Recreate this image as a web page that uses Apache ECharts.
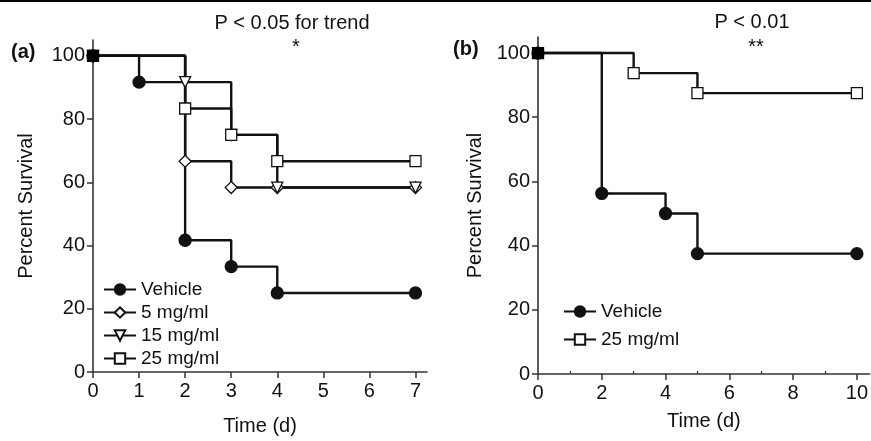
<!DOCTYPE html>
<html>
<head>
<meta charset="utf-8">
<script src="https://cdn.jsdelivr.net/npm/echarts@6/dist/echarts.min.js"></script>
<style>
html,body{margin:0;padding:0;background:#fff;}
#chart{width:871px;height:441px;}
</style>
</head>
<body>
<div id="chart"></div>
<script>
// Panel (a)
const timeA_vehicle = [0, 1, 2, 3, 4, 7];
const survA_vehicle = [100, 91.67, 41.67, 33.33, 25, 25];
const timeA_5 = [0, 2, 3, 4, 7];
const survA_5 = [100, 66.67, 58.33, 58.33, 58.33];
const timeA_15 = [0, 2, 3, 4, 7];
const survA_15 = [100, 91.67, 75, 58.33, 58.33];
const timeA_25 = [0, 2, 3, 4, 7];
const survA_25 = [100, 83.33, 75, 66.67, 66.67];
// Panel (b)
const timeB_vehicle = [0, 2, 4, 5, 10];
const survB_vehicle = [100, 56.25, 50, 37.5, 37.5];
const timeB_25 = [0, 3, 5, 10];
const survB_25 = [100, 93.75, 87.5, 87.5];

const yTicks = [0, 20, 40, 60, 80, 100];
const xTicksA = [0, 1, 2, 3, 4, 5, 6, 7];
const xTicksB = [0, 2, 4, 6, 8, 10];
const xMinorB = [1, 3, 5, 7, 9];
const namesA = ['Vehicle', '5 mg/ml', '15 mg/ml', '25 mg/ml'];
const namesB = ['Vehicle', '25 mg/ml'];

const FONT = '"Liberation Sans", Arial, Helvetica, sans-serif';
const INK = '#111';
const AX = '#333';

function pairs(t, s) { return t.map((x, i) => [x, s[i]]); }
function blackStart(t, s) {
  return t.map((x, i) => i === 0 ? { value: [x, s[i]], itemStyle: { color: '#000', borderColor: '#000' } } : [x, s[i]]);
}

function km(name, data, symbol, filled, xi, yi, rot) {
  return {
    type: 'line', name: name, data: data, step: 'end',
    xAxisIndex: xi, yAxisIndex: yi,
    symbol: symbol, symbolSize: symbol === 'circle' ? 12 : (symbol === 'diamond' ? 12 : 11),
    symbolRotate: rot || 0,
    showAllSymbol: true,
    lineStyle: { color: INK, width: 2.4 },
    itemStyle: { color: filled ? INK : '#fff', borderColor: INK, borderWidth: 1.3 },
    emphasis: { disabled: true },
    animation: false
  };
}

function yAxis(gi, gap) {
  return {
    type: 'value', gridIndex: gi, min: 0, max: 105,
    name: 'Percent Survival', nameLocation: 'middle', nameGap: gap, nameRotate: 90,
    nameTextStyle: { fontFamily: FONT, fontSize: 20, color: INK },
    axisLine: { show: true, lineStyle: { color: AX, width: 1.6 } },
    axisTick: { show: true, length: 6, customValues: yTicks, lineStyle: { color: AX, width: 1.5 } },
    axisLabel: { customValues: yTicks, margin: 8, fontFamily: FONT, fontSize: 20, color: INK },
    splitLine: { show: false }
  };
}
function xAxis(gi, max, ticks, gap) {
  return {
    type: 'value', gridIndex: gi, min: 0, max: max,
    name: 'Time (d)', nameLocation: 'middle', nameGap: gap,
    nameTextStyle: { fontFamily: FONT, fontSize: 20, color: INK },
    axisLine: { show: true, onZero: false, lineStyle: { color: AX, width: 1.6 } },
    axisTick: { show: true, length: 6, customValues: ticks, lineStyle: { color: AX, width: 1.5 } },
    axisLabel: { customValues: ticks, margin: 9, fontFamily: FONT, fontSize: 20, color: INK },
    splitLine: { show: false }
  };
}

const option = {
  backgroundColor: '#fff',
  animation: false,
  grid: [
    { left: 93, top: 40, width: 334, height: 336 },
    { left: 538, top: 37, width: 333, height: 337 }
  ],
  xAxis: [
    xAxis(0, 7.25, xTicksA, 44),
    xAxis(1, 10.4, xTicksB, 37),
    {
      type: 'value', gridIndex: 1, min: 0, max: 10.4,
      axisLine: { show: false },
      axisTick: { show: true, length: 3, customValues: xMinorB, lineStyle: { color: AX, width: 1.2 } },
      axisLabel: { show: false }, splitLine: { show: false }
    }
  ],
  yAxis: [yAxis(0, 57), yAxis(1, 53)],
  legend: [
    {
      data: namesA, orient: 'vertical', left: 103, top: 280, padding: 0,
      itemWidth: 32, itemHeight: 13, itemGap: 4,
      textStyle: { fontFamily: FONT, fontSize: 19, color: INK },
      selectedMode: false
    },
    {
      data: namesB, orient: 'vertical', left: 563, top: 302, padding: 0,
      itemWidth: 32, itemHeight: 13, itemGap: 9,
      textStyle: { fontFamily: FONT, fontSize: 19, color: INK },
      selectedMode: false
    }
  ],
  series: [
    km('Vehicle', pairs(timeA_vehicle, survA_vehicle), 'circle', true, 0, 0),
    km('5 mg/ml', pairs(timeA_5, survA_5), 'diamond', false, 0, 0),
    km('15 mg/ml', pairs(timeA_15, survA_15), 'triangle', false, 0, 0, 180),
    km('25 mg/ml', blackStart(timeA_25, survA_25), 'rect', false, 0, 0),
    km('Vehicle', pairs(timeB_vehicle, survB_vehicle), 'circle', true, 1, 1),
    km('25 mg/ml', blackStart(timeB_25, survB_25), 'rect', false, 1, 1)
  ],
  graphic: [
    { type: 'rect', left: 0, top: 0, shape: { width: 871, height: 2 }, style: { fill: '#000' } },
    { type: 'text', x: 292, y: 23, style: { text: 'P < 0.05 for trend', font: '20px ' + FONT, fill: INK, align: 'center', verticalAlign: 'middle' } },
    { type: 'text', x: 296, y: 47, style: { text: '*', font: '20px ' + FONT, fill: INK, align: 'center', verticalAlign: 'middle' } },
    { type: 'text', x: 752, y: 22, style: { text: 'P < 0.01', font: '20px ' + FONT, fill: INK, align: 'center', verticalAlign: 'middle' } },
    { type: 'text', x: 756, y: 47, style: { text: '**', font: '20px ' + FONT, fill: INK, align: 'center', verticalAlign: 'middle' } },
    { type: 'text', x: 11, y: 52, style: { text: '(a)', font: 'bold 20px ' + FONT, fill: INK, align: 'left', verticalAlign: 'middle' } },
    { type: 'text', x: 453, y: 49, style: { text: '(b)', font: 'bold 20px ' + FONT, fill: INK, align: 'left', verticalAlign: 'middle' } }
  ]
};

const chart = echarts.init(document.getElementById('chart'), null, { renderer: 'canvas' });
chart.setOption(option);
</script>
</body>
</html>
